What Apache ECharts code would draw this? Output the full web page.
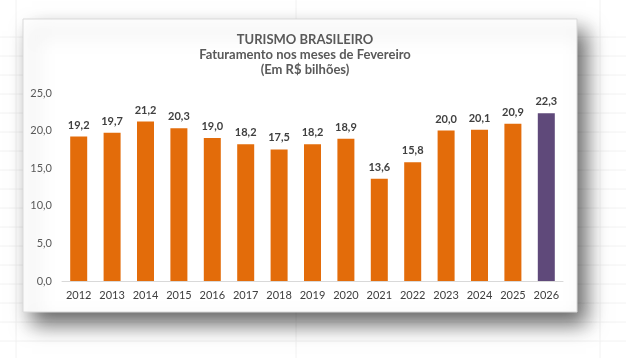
<!DOCTYPE html>
<html>
<head>
<meta charset="utf-8">
<script src="https://cdn.jsdelivr.net/npm/echarts@6/dist/echarts.min.js"></script>
<style>
html,body{margin:0;padding:0;background:#fff;}
#c{width:626px;height:358px;}
</style>
</head>
<body>
<div id="c"></div>
<script>
var categories = ['2012','2013','2014','2015','2016','2017','2018','2019','2020','2021','2022','2023','2024','2025','2026'];
var values = [19.2,19.7,21.2,20.3,19.0,18.2,17.5,18.2,18.9,13.6,15.8,20.0,20.1,20.9,22.3];
var highlightCategory = '2026';
var titleLines = ['TURISMO BRASILEIRO','Faturamento nos meses de Fevereiro','(Em R$ bilhões)'];

var ORANGE = '#E36C0A', PURPLE = '#5F497A';
var FONT = 'Lato, "Liberation Sans", sans-serif';
function fmt(v){ return Number(v).toFixed(1).replace('.', ','); }

var chart = echarts.init(document.getElementById('c'), null, {renderer:'canvas'});

// faint spreadsheet cell lines in the background
var bg = [];
[37,56,75,94,113,132,151,170,189,208,227,246,265,284,303,322,341].forEach(function(y){
  bg.push({type:'line', silent:true, z:-10, shape:{x1:0,y1:y,x2:626,y2:y}, style:{stroke:'#f2f2f2', lineWidth:1}});
});
[16,296,600].forEach(function(x){
  bg.push({type:'line', silent:true, z:-10, shape:{x1:x,y1:0,x2:x,y2:358}, style:{stroke:'#f2f2f2', lineWidth:1}});
});

var option = {
  animation:false,
  backgroundColor:'transparent',
  title:{
    text: titleLines.join('\n'),
    left: 300, top: 27, textAlign:'center',
    textStyle:{fontFamily:FONT, fontSize:13, fontWeight:'bold', color:'#595959', lineHeight:15}
  },
  graphic: bg.concat([
    {type:'rect', z:-5, silent:true,
     shape:{x:23, y:19, width:554, height:293},
     style:{fill:'#ffffff', stroke:'#d9d9d9', lineWidth:1,
            shadowBlur:20, shadowOffsetX:9, shadowOffsetY:12, shadowColor:'rgba(0,0,0,0.6)'}}
  ]),
  grid:{left:62, right:63, top:93, bottom:77},
  xAxis:{
    type:'category', data:categories,
    axisLine:{lineStyle:{color:'#d9d9d9'}},
    axisTick:{show:false},
    axisLabel:{fontFamily:FONT, fontSize:11, color:'#404040', margin:9}
  },
  yAxis:{
    type:'value', min:0, max:25, interval:5,
    axisLine:{show:false}, axisTick:{show:false},
    splitLine:{show:false},
    axisLabel:{fontFamily:FONT, fontSize:11, color:'#595959', margin:10, formatter:fmt}
  },
  series:[{
    type:'bar', barWidth:17,
    data: values.map(function(v,i){
      return {value:v, itemStyle:{color: categories[i]===highlightCategory ? PURPLE : ORANGE}};
    }),
    label:{show:true, position:'top', distance:6, fontFamily:FONT, fontSize:11, fontWeight:'bold', color:'#404040',
           formatter:function(p){return fmt(p.value);}}
  }]
};
chart.setOption(option);
</script>
</body>
</html>
